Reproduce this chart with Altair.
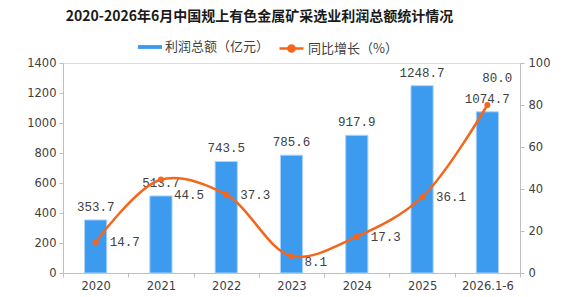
import altair as alt
import pandas as pd

# Profit of China's non-ferrous metal mining industry (above designated size)
years = ["2020", "2021", "2022", "2023", "2024", "2025", "2026.1-6"]
profit = [353.7, 513.7, 743.5, 785.6, 917.9, 1248.7, 1074.7]      # 100 million yuan
growth = [14.7, 44.5, 37.3, 8.1, 17.3, 36.1, 80.0]                 # YoY growth, %

bar_name = "利润总额（亿元）"
line_name = "同比增长（%）"
BLUE = "#3d9bef"
ORANGE = "#f4661b"
TEXT = "#404040"
NUM_FONT = "Liberation Mono"
AX_FONT = "DejaVu Sans"
CJK = "Noto Sans CJK SC"

df = pd.DataFrame({"year": years, "profit": profit, "growth": growth})
df["profit_label"] = [f"{v:.1f}" for v in profit]
df["growth_label"] = [f"{v:.1f}" for v in growth]
df["bar_series"] = bar_name
df["line_series"] = line_name

x_enc = alt.X(
    "year:N",
    sort=years,
    scale=alt.Scale(paddingInner=0, paddingOuter=0),
    axis=alt.Axis(
        title=None, labelAngle=0, tickBand="extent", tickSize=4,
        labelPadding=3, labelFont=AX_FONT, labelFontSize=11.5,
        labelColor=TEXT, domainColor="#bfbfbf", tickColor="#bfbfbf",
    ),
)

y_left = alt.Y(
    "profit:Q",
    scale=alt.Scale(domain=[0, 1400]),
    axis=alt.Axis(
        title=None, values=list(range(0, 1401, 200)), format="d", grid=False,
        tickSize=4, labelPadding=3, labelFont=AX_FONT, labelFontSize=11.5,
        labelColor=TEXT, domainColor="#bfbfbf", tickColor="#bfbfbf",
    ),
)

y_right = alt.Y(
    "growth:Q",
    scale=alt.Scale(domain=[0, 100]),
    axis=alt.Axis(
        title=None, orient="right", values=list(range(0, 101, 20)), format="d",
        grid=False, tickSize=4, labelPadding=4, labelFont=AX_FONT,
        labelFontSize=11.5, labelColor=TEXT, domainColor="#bfbfbf",
        tickColor="#bfbfbf",
    ),
)

line_color = alt.Color(
    "line_series:N",
    scale=alt.Scale(domain=[line_name], range=[ORANGE]),
    legend=alt.Legend(
        title=None, orient="none", legendX=215, legendY=-28,
        symbolType="M-1,0H1M0.26,0A0.26,0.26,0,1,1,-0.26,0A0.26,0.26,0,1,1,0.26,0Z",
        symbolSize=576, symbolStrokeWidth=2.5, symbolFillColor=ORANGE,
        labelFont=CJK, labelFontSize=13, labelColor=TEXT, labelOffset=3,
    ),
)

base = alt.Chart(df)

bars = base.mark_bar(
    width=alt.RelativeBandSize(0.34), stroke="#a9d3fb", strokeWidth=1
).encode(
    x=x_enc,
    y=y_left,
    color=alt.Color(
        "bar_series:N",
        scale=alt.Scale(domain=[bar_name], range=[BLUE]),
        legend=alt.Legend(
            title=None, orient="none", legendX=75, legendY=-28,
            symbolType="M-1,-0.16H1V0.16H-1Z", symbolSize=576,
            symbolStrokeWidth=0, labelFont=CJK, labelFontSize=13,
            labelColor=TEXT, labelOffset=3,
        ),
    ),
)

bar_text = base.mark_text(
    font=NUM_FONT, fontSize=12.5, color=TEXT, baseline="alphabetic", dy=-9
).encode(x=x_enc, y=y_left, text="profit_label:N")

line = base.mark_line(
    interpolate="catmull-rom", strokeWidth=2.5
).encode(x=x_enc, y=y_right, color=line_color)

pts = base.mark_point(filled=True, size=36, opacity=1).encode(
    x=x_enc, y=y_right, color=line_color
)


def growth_labels(keep, **style):
    """Growth labels for the given years, drawn beside their points."""
    opts = dict(font=NUM_FONT, fontSize=12.5, color=TEXT, baseline="middle")
    opts.update(style)
    return base.transform_filter(
        alt.FieldOneOfPredicate(field="year", oneOf=keep)
    ).mark_text(**opts).encode(x=x_enc, y=y_right, text="growth_label:N")


growth_main = growth_labels(["2020", "2022", "2024", "2025"], align="left", dx=14)
growth_2021 = growth_labels(["2021"], align="left", dx=13, dy=15)
growth_2023 = growth_labels(["2023"], align="left", dx=13, dy=6)
growth_last = growth_labels([years[-1]], align="center", dx=10, dy=-27)

bar_layer = alt.layer(bars, bar_text)
line_layer = alt.layer(line, pts, growth_main, growth_2021, growth_2023, growth_last)

chart = alt.layer(bar_layer, line_layer).resolve_scale(
    y="independent", color="independent"
).properties(
    width=457,
    height=210,
    autosize=alt.AutoSizeParams(type="none"),
    padding={"left": 63, "top": 63, "right": 57, "bottom": 24},
    title=alt.TitleParams(
        "2020-2026年6月中国规上有色金属矿采选业利润总额统计情况",
        font=CJK, fontSize=14, fontWeight="bold", color="#1a1a1a",
        anchor="middle", dx=-32, offset=11,
    ),
).configure_view(stroke=None).configure(background="white")

chart.save("out.html", embed_options={"renderer": "svg", "actions": False})
